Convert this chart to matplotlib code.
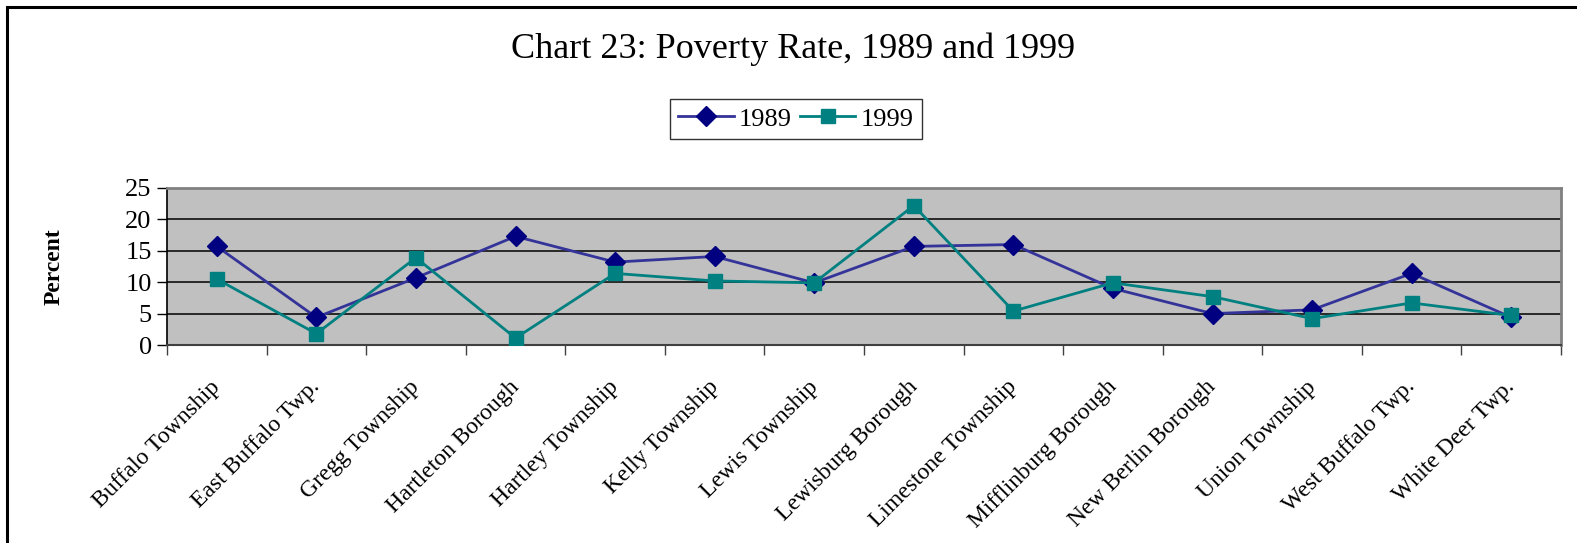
import matplotlib.pyplot as plt
import numpy as np
from matplotlib.patches import Rectangle

plt.rcParams['font.family'] = ['Liberation Serif', 'DejaVu Serif']

places = ['Buffalo Township', 'East Buffalo Twp.', 'Gregg Township', 'Hartleton Borough',
          'Hartley Township', 'Kelly Township', 'Lewis Township', 'Lewisburg Borough',
          'Limestone Township', 'Mifflinburg Borough', 'New Berlin Borough',
          'Union Township', 'West Buffalo Twp.', 'White Deer Twp.']
rate_1989 = [15.7, 4.4, 10.7, 17.3, 13.2, 14.1, 9.9, 15.7, 16.0, 9.0, 5.0, 5.6, 11.4, 4.4]
rate_1999 = [10.5, 1.8, 13.9, 1.1, 11.4, 10.2, 9.9, 22.2, 5.4, 9.9, 7.7, 4.2, 6.7, 4.7]
yticks = [0, 5, 10, 15, 20, 25]

W, H = 1577, 543
fig = plt.figure(figsize=(W / 100, H / 100), dpi=100)
ax = fig.add_axes([167 / W, 1 - 345 / H, (1561 - 167) / W, (345 - 188) / H])

# outer chart frame (cut off at right and bottom)
fig.patches.append(Rectangle((7 / W, -0.05), 1.2, 1 - 7 / H + 0.05, transform=fig.transFigure,
                             fill=False, edgecolor='black', linewidth=2.2))

x = np.arange(len(places))
ax.set_facecolor('#C0C0C0')
for y in yticks[1:-1]:
    ax.axhline(y, color='black', linewidth=1.1, zorder=1)

ax.plot(x, rate_1989, color='#333399', linewidth=2, marker='D', markersize=10,
        markerfacecolor='#000080', markeredgecolor='#000080', label='1989', zorder=3)
ax.plot(x, rate_1999, color='#008080', linewidth=2, marker='s', markersize=10.5,
        markerfacecolor='#008080', markeredgecolor='#008080', label='1999', zorder=3)

ax.set_xlim(-0.5, len(places) - 0.5)
ax.set_ylim(0, 25)
ax.set_yticks(yticks)
ax.tick_params(axis='y', labelsize=19, length=7, width=1, direction='out', pad=4)
ax.set_xticks(np.arange(len(places) + 1) - 0.5)
ax.set_xticklabels([])
ax.tick_params(axis='x', length=7, width=1, direction='out', color='#404040')
for i, name in enumerate(places):
    ax.text(i - 0.07, -5.0, name, rotation=45, ha='right', va='top', rotation_mode='anchor',
            fontsize=17)

for side in ['top', 'right']:
    ax.spines[side].set_color('#808080')
    ax.spines[side].set_linewidth(2)
ax.spines['left'].set_linewidth(1.2)
ax.spines['bottom'].set_linewidth(1.5)
ax.spines['bottom'].set_color('#404040')

ax.set_ylabel('Percent', fontsize=17, fontweight='bold', labelpad=44)

fig.text(793 / W, 1 - 49 / H, 'Chart 23: Poverty Rate, 1989 and 1999', ha='center', va='center',
         fontsize=26)
leg = fig.legend(loc='center', bbox_to_anchor=(796 / W, 1 - 119 / H), ncol=2, fontsize=19,
                 frameon=True, fancybox=False, edgecolor='black', handlelength=2.1,
                 columnspacing=0.3, handletextpad=0.2, borderpad=0.3, borderaxespad=0,
                 markerscale=1.0)
leg.get_frame().set_linewidth(1)

fig.savefig('out.png', dpi=100)
